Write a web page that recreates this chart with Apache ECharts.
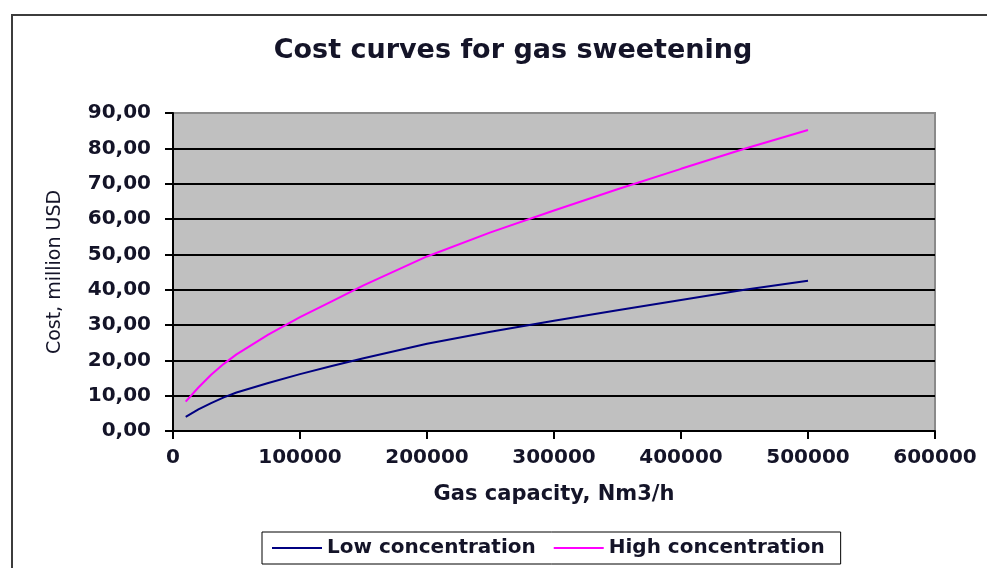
<!DOCTYPE html>
<html>
<head>
<meta charset="utf-8">
<script src="https://cdn.jsdelivr.net/npm/echarts@6/dist/echarts.min.js"></script>
<style>
  html, body { margin: 0; padding: 0; background: #fff; }
  #chart { width: 987px; height: 568px; }
</style>
</head>
<body>
<div id="chart"></div>
<script>
// Gas capacity (Nm3/h) at which the costs are given
const capacity = [10000, 20000, 30000, 40000, 50000, 75000, 100000, 125000, 150000,
                  200000, 250000, 300000, 350000, 400000, 450000, 500000];
// Investment cost, million USD
const lowConcentration  = [4.0, 6.1, 7.9, 9.5, 10.9, 13.6, 16.1, 18.4, 20.6,
                           24.7, 28.1, 31.2, 34.2, 37.1, 40.0, 42.5];
const highConcentration = [8.3, 12.3, 15.9, 19.0, 21.7, 27.3, 32.2, 36.7, 41.2,
                           49.4, 56.2, 62.4, 68.4, 74.2, 79.9, 85.2];
const seriesNames = ['Low concentration', 'High concentration'];

const FONT = 'DejaVu Sans';
const TEXT = '#141428';

const pairs = (xs, ys) => xs.map((x, i) => [x, ys[i]]);

const chart = echarts.init(document.getElementById('chart'));
chart.setOption({
  backgroundColor: '#fff',
  animation: false,
  title: {
    text: 'Cost curves for gas sweetening',
    left: 508, top: 32, textAlign: 'center',
    textStyle: { fontFamily: FONT, fontSize: 27, fontWeight: 'bold', color: TEXT }
  },
  graphic: [{
    type: 'rect', silent: true,
    shape: { x: 12, y: 15, width: 1000, height: 600 },
    style: { fill: 'none', stroke: '#3c3c3c', lineWidth: 2 }
  }],
  grid: {
    left: 173, right: 52, top: 113, bottom: 137,
    show: true, backgroundColor: '#c0c0c0', borderColor: '#8a8a8a', borderWidth: 2
  },
  legend: {
    left: 262, top: 532,
    icon: 'rect', itemWidth: 50, itemHeight: 2, itemGap: 18,
    padding: [6, 16, 6, 10],
    borderColor: '#000', borderWidth: 1,
    textStyle: { fontFamily: FONT, fontSize: 20, fontWeight: 'bold', color: TEXT },
    data: seriesNames
  },
  xAxis: {
    type: 'value', min: 0, max: 600000, interval: 100000,
    name: 'Gas capacity, Nm3/h', nameLocation: 'middle', nameGap: 53,
    nameTextStyle: { fontFamily: FONT, fontSize: 21, fontWeight: 'bold', color: TEXT },
    axisLine: { show: true, onZero: false, lineStyle: { color: '#000', width: 2 } },
    axisTick: { show: true, length: 8, lineStyle: { color: '#000', width: 2 } },
    axisLabel: {
      margin: 17, fontFamily: FONT, fontSize: 20, fontWeight: 'bold', color: TEXT,
      formatter: v => String(v)
    },
    splitLine: { show: false }
  },
  yAxis: {
    type: 'value', min: 0, max: 90, interval: 10,
    name: 'Cost, million USD', nameLocation: 'middle', nameGap: 108, nameRotate: 90,
    nameTextStyle: { fontFamily: FONT, fontSize: 19, color: TEXT },
    axisLine: { show: true, onZero: false, lineStyle: { color: '#000', width: 2 } },
    axisTick: { show: true, length: 8, lineStyle: { color: '#000', width: 2 } },
    axisLabel: {
      margin: 22, fontFamily: FONT, fontSize: 20, fontWeight: 'bold', color: TEXT,
      formatter: v => v.toFixed(2).replace('.', ',')
    },
    splitLine: {
      show: true,
      lineStyle: {
        width: 2,
        color: ['#000', '#000', '#000', '#000', '#000', '#000', '#000', '#000', '#000', '#8a8a8a']
      }
    }
  },
  series: [
    {
      name: seriesNames[0], type: 'line', data: pairs(capacity, lowConcentration),
      symbol: 'none', lineStyle: { color: '#000080', width: 2 }, itemStyle: { color: '#000080' }
    },
    {
      name: seriesNames[1], type: 'line', data: pairs(capacity, highConcentration),
      symbol: 'none', lineStyle: { color: '#ff00ff', width: 2 }, itemStyle: { color: '#ff00ff' }
    }
  ]
});
</script>
</body>
</html>
